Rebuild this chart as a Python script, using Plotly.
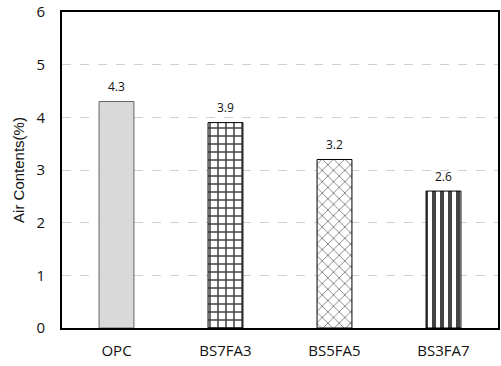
import plotly.graph_objects as go

categories = ["OPC", "BS7FA3", "BS5FA5", "BS3FA7"]
air_content = [4.3, 3.9, 3.2, 2.6]
y_ticks = [0, 1, 2, 3, 4, 5, 6]

fills = ["#d9d9d9", "white", "white", "white"]
outlines = ["#666666", "black", "black", "black"]
shapes = ["", "+", "x", "|"]
solidities = [0.3, 0.35, 0.15, 0.5]

fig = go.Figure()
fig.add_trace(go.Bar(
    x=categories,
    y=air_content,
    width=0.32,
    marker=dict(
        color=fills,
        line=dict(color=outlines, width=1),
        pattern=dict(shape=shapes, fgcolor="black", fgopacity=1,
                     size=8, solidity=solidities, fillmode="overlay"),
    ),
    showlegend=False,
))

for c, v in zip(categories, air_content):
    fig.add_annotation(x=c, y=v, text=f"{v}", showarrow=False,
                       yshift=15, font=dict(size=12, color="#111111",
                                            family="Open Sans"))

fig.update_layout(
    width=501, height=366,
    margin=dict(l=62, r=1, t=10, b=38),
    plot_bgcolor="white", paper_bgcolor="white",
    font=dict(family="Open Sans", color="#111111"),
)
fig.update_xaxes(
    showline=True, linecolor="black", linewidth=2, mirror=True,
    ticks="", tickfont=dict(size=15), showgrid=False,
    ticklabelstandoff=8,
)
fig.update_yaxes(
    range=[0, 6], tickvals=y_ticks, ticks="",
    showline=True, linecolor="black", linewidth=2, mirror=True,
    showgrid=True, gridcolor="#d0d0d0", griddash="dash", gridwidth=1,
    tickfont=dict(size=15), zeroline=False,
    ticklabelstandoff=12, ticklabeloverflow="allow",
    title=dict(text="Air Contents(%)", standoff=8,
               font=dict(family="Liberation Sans", size=15)),
)
fig.write_html("out.html")
